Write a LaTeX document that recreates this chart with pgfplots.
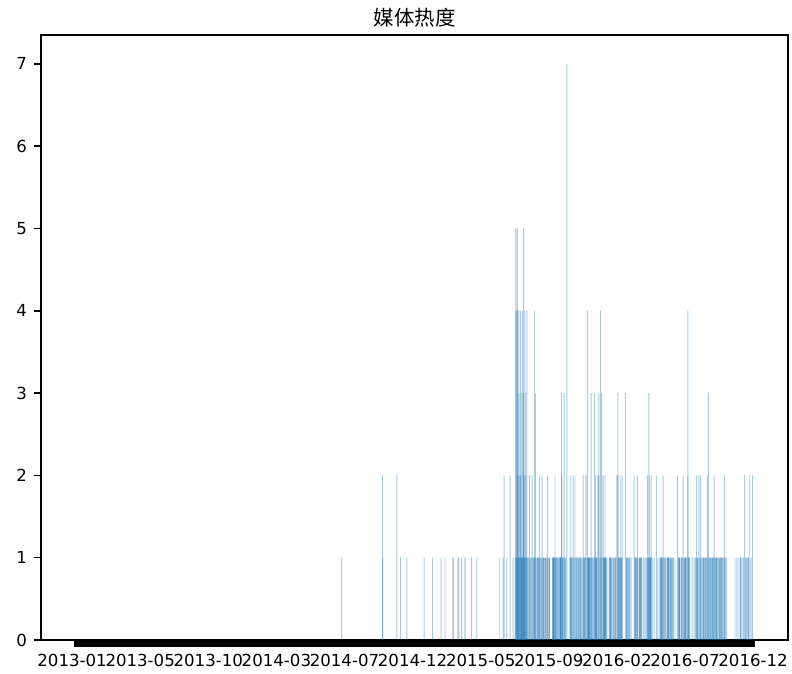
\documentclass[border=0pt]{standalone}
\usepackage{fontspec}
\setmainfont{DejaVu Sans}
\newfontfamily\cjk{Noto Sans CJK SC}
\usepackage{pgfplots}
\usepackage{pgfplotstable}
\pgfplotsset{compat=1.18}
\definecolor{C0}{RGB}{31,119,180}
\pgfplotsset{heatbar/.style={ybar, bar shift=0pt, bar width=2, fill=C0, fill opacity=0.38, draw=none, mark=none}}
% x = days since 2013-01-01 ; heat = media heat of an article.
% Articles of the same day are drawn as overlapping translucent bars:
% layer 1 = first article of each day, layer 2 = second article, ...
\pgfplotstableread[row sep=\\]{
day heat\\
566 1\\ 652 2\\ 682 2\\ 690 1\\ 703 1\\ 739 1\\ 757 1\\ 775 1\\ 783 1\\ 800 1\\ 810 1\\ 812 1\\
818 1\\ 825 1\\ 839 1\\ 850 1\\
898 1\\ 905 1\\ 907 2\\ 913 1\\ 920 2\\ 926 1\\
931 1\\ 932 5\\ 933 4\\ 934 2\\ 935 5\\ 936 2\\ 937 1\\ 938 4\\ 939 1\\ 940 2\\ 941 2\\ 942 4\\
943 1\\ 944 3\\ 945 1\\ 946 4\\ 947 2\\ 948 5\\ 950 1\\ 951 4\\ 952 3\\ 953 2\\ 954 1\\ 955 4\\ 956 1\\
958 1\\ 960 2\\ 962 1\\ 964 1\\ 966 2\\ 968 1\\ 970 1\\ 971 4\\ 973 3\\ 975 1\\ 977 1\\ 979 1\\
981 2\\ 983 1\\ 985 1\\ 987 2\\ 989 1\\ 991 1\\ 994 1\\ 996 1\\ 998 2\\ 1000 1\\ 1002 1\\
1009 1\\ 1011 1\\ 1013 1\\ 1014 2\\ 1016 1\\ 1018 1\\ 1020 1\\ 1022 1\\ 1024 1\\ 1026 1\\ 1028 3\\
1030 1\\ 1033 3\\ 1035 1\\ 1037 1\\ 1039 7\\ 1045 1\\ 1046 2\\ 1048 1\\ 1050 1\\ 1052 2\\ 1054 1\\
1056 2\\ 1058 1\\ 1060 1\\ 1062 1\\ 1064 1\\ 1066 1\\ 1068 1\\ 1070 1\\ 1073 2\\ 1075 1\\ 1077 1\\
1079 2\\ 1082 4\\ 1084 1\\ 1086 1\\ 1088 1\\ 1090 3\\ 1092 1\\ 1094 1\\ 1097 3\\ 1099 2\\ 1101 1\\
1104 2\\ 1106 3\\ 1108 1\\ 1110 4\\ 1112 3\\ 1115 2\\ 1117 1\\ 1119 2\\ 1121 1\\ 1123 1\\ 1128 1\\
1131 1\\ 1133 1\\ 1136 1\\ 1138 1\\ 1141 1\\ 1143 1\\ 1144 2\\ 1146 3\\ 1148 1\\ 1150 1\\ 1151 2\\
1153 1\\ 1155 2\\ 1162 3\\ 1164 1\\ 1166 1\\ 1167 1\\ 1169 1\\ 1171 1\\ 1174 1\\ 1180 2\\ 1182 1\\
1184 1\\ 1187 2\\ 1190 1\\ 1192 1\\ 1194 1\\ 1196 1\\ 1200 1\\ 1203 1\\ 1206 1\\ 1208 2\\ 1210 1\\
1211 3\\ 1212 2\\ 1214 1\\ 1216 2\\ 1218 1\\ 1222 1\\ 1227 2\\ 1230 1\\ 1234 1\\ 1236 1\\ 1238 1\\
1240 1\\ 1241 2\\ 1243 1\\ 1245 1\\ 1247 1\\ 1250 1\\ 1252 1\\ 1254 1\\ 1256 1\\ 1258 1\\ 1260 1\\
1262 1\\ 1266 1\\ 1271 2\\ 1273 1\\ 1275 1\\ 1277 1\\ 1280 1\\ 1283 2\\ 1285 1\\ 1287 1\\ 1289 1\\
1291 1\\ 1293 4\\ 1295 1\\ 1297 1\\ 1302 1\\ 1306 1\\ 1309 1\\ 1311 2\\ 1313 1\\ 1316 2\\ 1318 1\\
1320 2\\ 1322 1\\ 1325 1\\ 1327 1\\ 1329 1\\ 1331 1\\ 1334 2\\ 1336 3\\ 1338 1\\ 1340 1\\ 1342 1\\
1344 1\\ 1346 1\\ 1348 2\\ 1350 1\\ 1352 1\\ 1354 1\\ 1357 1\\ 1359 1\\ 1361 1\\ 1363 1\\ 1365 1\\
1367 1\\ 1370 2\\ 1372 1\\ 1374 1\\
1392 1\\ 1396 1\\ 1400 1\\ 1404 1\\ 1407 1\\ 1410 1\\ 1412 2\\ 1415 1\\ 1418 1\\ 1420 1\\ 1423 2\\
1426 1\\ 1429 2\\
}\layerA
\pgfplotstableread[row sep=\\]{
day heat\\
652 1\\ 800 1\\ 825 1\\
932 4\\ 933 1\\ 934 1\\ 935 4\\ 936 1\\ 937 1\\ 938 3\\ 939 1\\ 940 1\\ 941 1\\ 942 2\\ 943 1\\
944 1\\ 945 1\\ 946 1\\ 947 1\\ 948 3\\ 950 1\\ 951 2\\ 952 1\\ 953 1\\ 954 1\\ 955 1\\
960 1\\ 964 1\\ 968 1\\ 971 1\\ 973 1\\ 977 1\\ 979 1\\ 981 1\\ 985 1\\ 989 1\\ 994 1\\ 998 1\\ 1002 1\\
1009 1\\ 1011 1\\ 1013 1\\ 1014 1\\ 1016 1\\ 1020 1\\ 1024 1\\ 1026 1\\ 1028 2\\ 1030 1\\ 1033 1\\
1035 1\\ 1046 1\\ 1048 1\\ 1052 1\\ 1056 1\\ 1060 1\\ 1064 1\\ 1068 1\\ 1073 1\\ 1075 1\\ 1079 1\\
1082 1\\ 1084 1\\ 1086 1\\ 1090 1\\ 1094 1\\ 1097 1\\ 1099 1\\ 1101 1\\ 1104 1\\ 1106 2\\ 1110 1\\
1112 1\\ 1115 1\\ 1117 1\\ 1119 1\\ 1121 1\\ 1128 1\\
1131 1\\ 1136 1\\ 1141 1\\ 1146 2\\ 1148 1\\ 1151 1\\ 1153 1\\ 1155 1\\ 1164 1\\ 1167 1\\ 1171 1\\
1182 1\\ 1184 1\\ 1187 1\\ 1192 1\\ 1194 1\\ 1196 1\\ 1208 1\\ 1210 1\\ 1212 1\\ 1214 1\\ 1216 1\\
1236 1\\ 1238 1\\ 1241 1\\ 1245 1\\ 1250 1\\ 1252 1\\ 1256 1\\ 1258 1\\ 1262 1\\ 1273 1\\ 1275 1\\
1280 1\\ 1283 1\\ 1287 1\\ 1289 1\\ 1293 2\\ 1295 1\\ 1311 1\\ 1313 1\\ 1316 1\\
1320 1\\ 1325 1\\ 1329 1\\ 1331 1\\ 1334 1\\ 1336 1\\ 1340 1\\ 1344 1\\ 1346 1\\ 1348 1\\ 1352 1\\
1354 1\\ 1359 1\\ 1363 1\\ 1367 1\\ 1370 1\\
1404 1\\ 1415 1\\ 1420 1\\
}\layerB
\pgfplotstableread[row sep=\\]{
day heat\\
932 1\\ 934 1\\ 935 2\\ 937 1\\ 938 1\\ 941 1\\ 944 1\\ 947 1\\ 948 2\\ 950 1\\ 953 1\\ 955 1\\
971 1\\ 989 1\\
1011 1\\ 1016 1\\ 1026 1\\ 1030 1\\ 1048 1\\ 1075 1\\ 1084 1\\ 1086 1\\ 1090 1\\ 1099 1\\ 1101 1\\
1117 1\\ 1121 1\\
1131 1\\ 1148 1\\ 1153 1\\ 1184 1\\ 1192 1\\ 1210 1\\ 1214 1\\ 1238 1\\ 1252 1\\ 1275 1\\ 1287 1\\
1295 1\\ 1325 1\\ 1340 1\\ 1354 1\\ 1363 1\\
}\layerC
\pgfplotstableread[row sep=\\]{
day heat\\
934 1\\ 937 1\\ 941 1\\ 944 1\\ 947 1\\ 948 1\\ 950 1\\ 1011 1\\ 1026 1\\ 1084 1\\ 1117 1\\
1214 1\\ 1287 1\\
}\layerD
\begin{document}
\begin{tikzpicture}
\begin{axis}[
  scale only axis, width=373.5pt, height=302.5pt,
  xmin=-65.3, xmax=1503.3, ymin=0, ymax=7.35,
  axis line style={line width=0.8pt},
  tick align=outside, tick pos=left,
  major tick length=3.5pt, minor tick length=3.5pt,
  every tick/.style={black, line width=0.8pt},
  xtick={0,143,...,1430},
  xticklabels={2013-01,2013-05,2013-10,2014-03,2014-07,2014-12,2015-05,2015-09,2016-02,2016-07,2016-12},
  major x tick style={draw=none},
  minor xtick={6,8,...,1432},
  minor x tick style={line width=0.6pt, black},
  ytick={0,...,7},
  tick label style={font=\fontsize{8.3}{10}\selectfont, text=black},
  /pgf/number format/assume math mode=true,
  title={\cjk 媒体热度},
  title style={font=\fontsize{10.25}{12}\selectfont, at={(0.5,1)}, anchor=base, yshift=-1.5pt, inner sep=0pt},
]
\addplot[heatbar] table[x=day, y=heat] {\layerA};
\addplot[heatbar] table[x=day, y=heat] {\layerB};
\addplot[heatbar] table[x=day, y=heat] {\layerC};
\addplot[heatbar] table[x=day, y=heat] {\layerD};
\end{axis}
\pgfresetboundingbox
\path ([shift={(-20.5pt,-17pt)}]current axis.south west) rectangle ([shift={(2pt,17.5pt)}]current axis.north east);
\end{tikzpicture}
\end{document}
